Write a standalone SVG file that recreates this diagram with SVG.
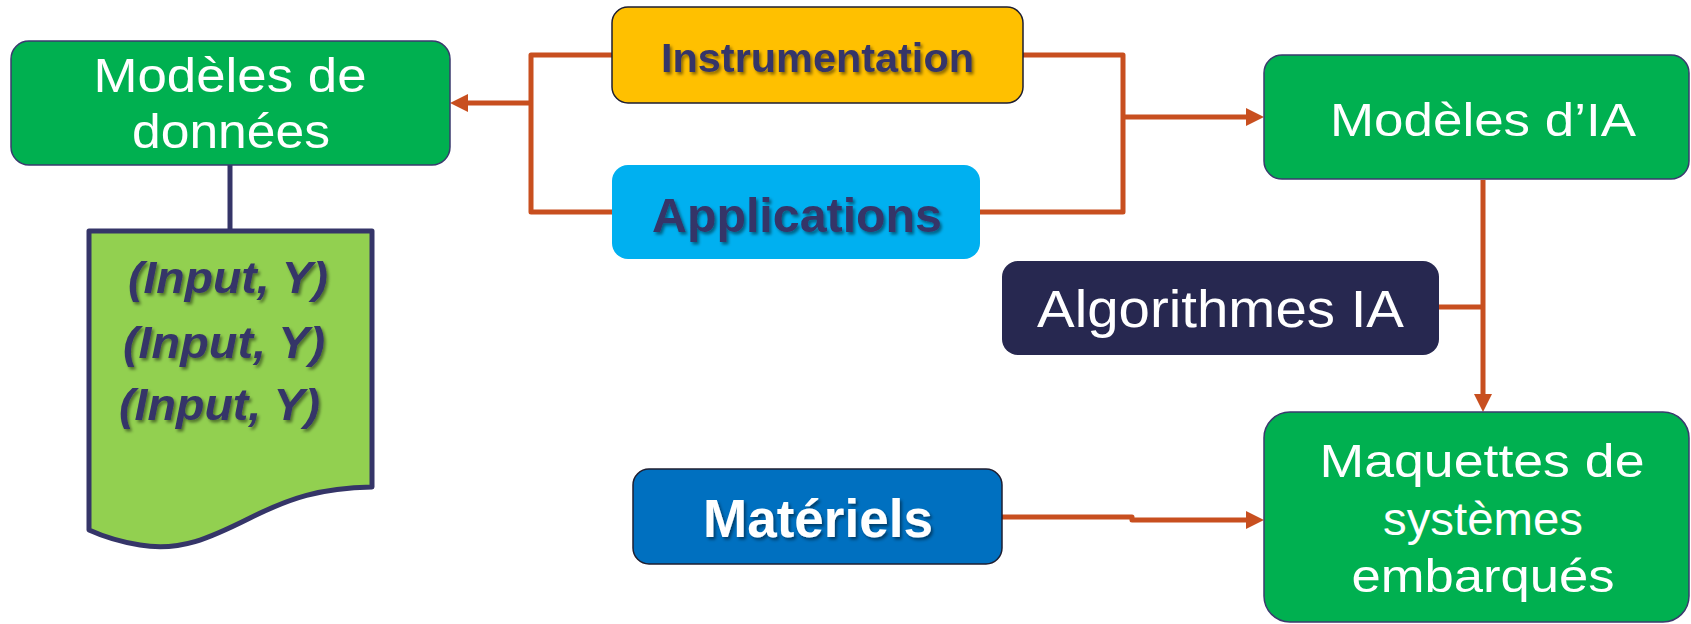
<svg xmlns="http://www.w3.org/2000/svg" width="1691" height="624" viewBox="0 0 1691 624">
<style>
.lt{font-family:"Liberation Sans",Arial,sans-serif;fill:#ffffff;text-anchor:middle}
.bd{font-family:"Liberation Sans",Arial,sans-serif;font-weight:bold;fill:#353568;text-anchor:middle}
.conn{fill:none;stroke:#C84F1F;stroke-width:5;stroke-linejoin:round}
.green{fill:#00B050;stroke:#3A3A6E;stroke-width:1.5}
</style>
<defs>
<marker id="ah" markerUnits="userSpaceOnUse" markerWidth="18" markerHeight="18" refX="4" refY="9" orient="auto">
<path d="M0,0 L18,9 L0,18 z" fill="#C84F1F"/>
</marker>
<filter id="sh" x="-10%" y="-20%" width="120%" height="150%">
<feDropShadow dx="2" dy="2.5" stdDeviation="1.5" flood-color="#000" flood-opacity="0.45"/>
</filter>
</defs>

<g id="connectors">
<path class="conn" d="M612,55 H531 V212 H612"/>
<path class="conn" d="M531,103 H464" marker-end="url(#ah)"/>
<path class="conn" d="M1023,55 H1123 V212 H980"/>
<path class="conn" d="M1123,117 H1250" marker-end="url(#ah)"/>
<path class="conn" d="M1483,180 V398" marker-end="url(#ah)"/>
<path class="conn" d="M1439,307 H1483"/>
<path class="conn" d="M1002,517 H1132 V520 H1250" stroke-linejoin="miter" marker-end="url(#ah)"/>
<path d="M230,165 V231" fill="none" stroke="#353568" stroke-width="5"/>
</g>

<g id="modeles-donnees">
<rect class="green" x="11" y="41" width="439" height="124" rx="18"/>
<text class="lt" x="230" y="92" font-size="48" textLength="273" lengthAdjust="spacingAndGlyphs">Modèles de</text>
<text class="lt" x="231" y="148" font-size="48" textLength="198" lengthAdjust="spacingAndGlyphs">données</text>
</g>

<g id="donnees-doc">
<path d="M89,231 H372 V487 C320,488 290,498 250,518 C210,538 180,552 140,545 C115,541 100,535 89,530 Z" fill="#92D050" stroke="#353568" stroke-width="5" stroke-linejoin="round"/>
<g font-family="'Liberation Sans',Arial,sans-serif" font-weight="bold" font-style="italic" font-size="45" fill="#353568" filter="url(#sh)">
<text x="128" y="293" textLength="200" lengthAdjust="spacingAndGlyphs">(Input, Y)</text>
<text x="123" y="358" textLength="202" lengthAdjust="spacingAndGlyphs">(Input, Y)</text>
<text x="119" y="420" textLength="201" lengthAdjust="spacingAndGlyphs">(Input, Y)</text>
</g>
</g>

<g id="instrumentation">
<rect x="612" y="7" width="411" height="96" rx="16" fill="#FFC000" stroke="#1E1E30" stroke-width="1.5"/>
<text class="bd" x="817.5" y="72" font-size="41" textLength="313" lengthAdjust="spacingAndGlyphs" filter="url(#sh)">Instrumentation</text>
</g>

<g id="applications">
<rect x="612" y="165" width="368" height="94" rx="16" fill="#00B0F0"/>
<text class="bd" x="797" y="232" font-size="48" textLength="290" lengthAdjust="spacingAndGlyphs" filter="url(#sh)">Applications</text>
</g>

<g id="modeles-ia">
<rect class="green" x="1264" y="55" width="425" height="124" rx="18"/>
<text class="lt" x="1483" y="136" font-size="47" textLength="306" lengthAdjust="spacingAndGlyphs">Modèles d’IA</text>
</g>

<g id="algorithmes">
<rect x="1002" y="261" width="437" height="94" rx="16" fill="#272850"/>
<text class="lt" x="1220.5" y="327" font-size="51" textLength="367" lengthAdjust="spacingAndGlyphs">Algorithmes IA</text>
</g>

<g id="materiels">
<rect x="633" y="469" width="369" height="95" rx="16" fill="#0070C0" stroke="#1E1E30" stroke-width="1.5"/>
<text class="bd" x="818" y="537" font-size="53" fill="#ffffff" style="fill:#ffffff" textLength="230" lengthAdjust="spacingAndGlyphs" filter="url(#sh)">Matériels</text>
</g>

<g id="maquettes">
<rect class="green" x="1264" y="412" width="425" height="210" rx="26"/>
<text class="lt" x="1482" y="477" font-size="46" textLength="325" lengthAdjust="spacingAndGlyphs">Maquettes de</text>
<text class="lt" x="1483" y="535" font-size="46" textLength="200" lengthAdjust="spacingAndGlyphs">systèmes</text>
<text class="lt" x="1483" y="592" font-size="46" textLength="263" lengthAdjust="spacingAndGlyphs">embarqués</text>
</g>
</svg>
